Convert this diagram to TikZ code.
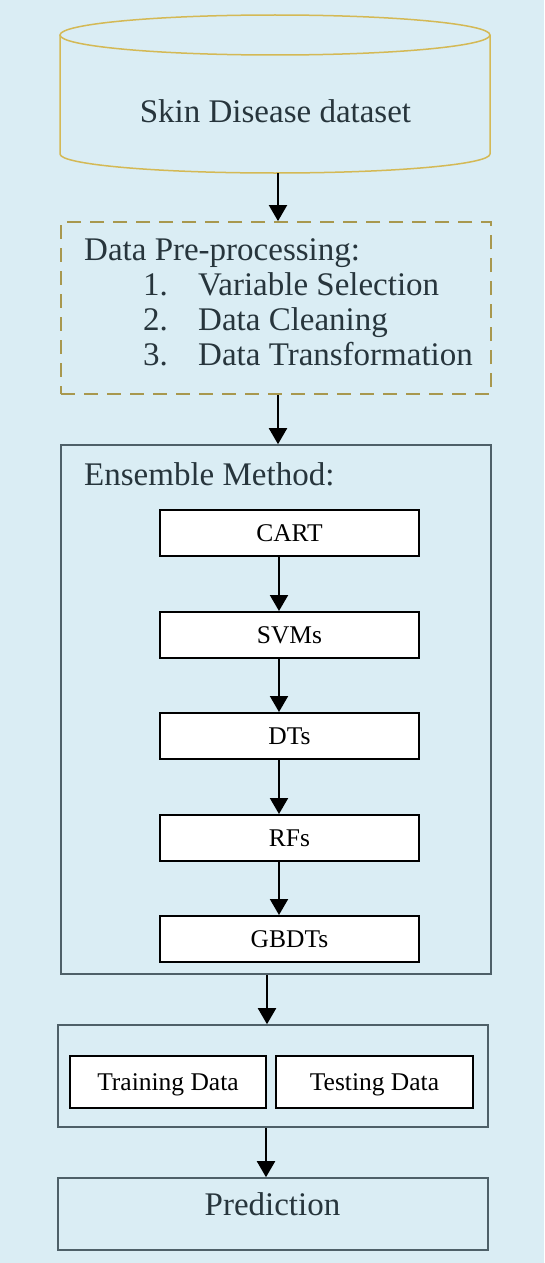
\documentclass[tikz,border=0pt]{standalone}
\usepackage{fontspec}
\setmainfont{Liberation Serif}
\usetikzlibrary{arrows.meta}
\definecolor{bg}{HTML}{DAEDF4}
\definecolor{gold}{HTML}{D4B955}
\definecolor{olive}{HTML}{A8984E}
\definecolor{slate}{HTML}{4E6068}
\definecolor{txt}{HTML}{27353C}
\tikzset{
  bigtext/.style={inner sep=0pt, text=txt, font=\fontsize{33}{35}\selectfont},
  cyl/.style={draw=gold, line width=1.5pt},
  prebox/.style={draw=olive, line width=1.8pt, dash pattern=on 14pt off 9pt, minimum width=430pt, minimum height=172pt, inner sep=0pt},
  outerbox/.style={draw=slate, line width=1.6pt, inner sep=0pt},
  algbox/.style={draw=black, fill=white, line width=2pt, minimum width=259pt, minimum height=46pt, inner sep=0pt, text height=17pt, text depth=0pt, font=\fontsize{25.5}{28}\selectfont, text=black},
  databox/.style={draw=black, fill=white, line width=2pt, minimum height=52pt, inner sep=0pt, text height=17pt, text depth=0pt, font=\fontsize{25.5}{28}\selectfont, text=black},
  arr/.style={line width=2pt, draw=black, -{Triangle[width=18pt,length=16pt]}}
}
\begin{document}
\begin{tikzpicture}[x=1pt,y=-1pt]
\fill[bg] (0,0) rectangle (544,1263);
\useasboundingbox (0,0) rectangle (544,1263);

% cylinder
\draw[cyl] (60,35) -- (60,154) arc[start angle=180,end angle=360,x radius=215pt,y radius=19pt] -- (490,35);
\draw[cyl] (275,35) ellipse[x radius=215pt,y radius=20pt];
\node[bigtext, anchor=base] (dbtext) at (275.5,122) {Skin Disease dataset};
\coordinate (dbbot) at (278,173);

% pre-processing
\node[prebox] (pre) at (276,308) {};
\node[bigtext, anchor=base west] (pretitle) at (84,260) {Data Pre-processing:};
\node[bigtext, anchor=base west] (n1) at (143,295) {1.};
\node[bigtext, anchor=base west] (i1) at (198,295) {Variable Selection};
\node[bigtext, anchor=base west] (n2) at (143,330) {2.};
\node[bigtext, anchor=base west] (i2) at (198,330) {Data Cleaning};
\node[bigtext, anchor=base west] (n3) at (143,365) {3.};
\node[bigtext, anchor=base west] (i3) at (198,365) {Data Transformation};

\draw[arr] (dbbot) -- (dbbot |- pre.north);

% ensemble
\node[outerbox, minimum width=430pt, minimum height=529pt] (ens) at (276,709.5) {};
\node[bigtext, anchor=base west] (enstitle) at (84,485) {Ensemble Method:};
\draw[arr] ([xshift=2pt]pre.south) -- ([xshift=2pt]ens.north);

\node[algbox] (cart) at (289.5,533) {CART};
\node[algbox] (svm) at (289.5,635) {SVMs};
\node[algbox] (dt) at (289.5,736) {DTs};
\node[algbox] (rf) at (289.5,838) {RFs};
\node[algbox] (gbdt) at (289.5,939) {GBDTs};
\draw[arr] ([xshift=-10.5pt]cart.south) -- ([xshift=-10.5pt]svm.north);
\draw[arr] ([xshift=-10.5pt]svm.south) -- ([xshift=-10.5pt]dt.north);
\draw[arr] ([xshift=-10.5pt]dt.south) -- ([xshift=-10.5pt]rf.north);
\draw[arr] ([xshift=-10.5pt]rf.south) -- ([xshift=-10.5pt]gbdt.north);

% training/testing
\node[outerbox, minimum width=430pt, minimum height=102pt] (split) at (273,1076) {};
\node[databox, minimum width=196pt] (train) at (168,1082) {Training Data};
\node[databox, minimum width=197pt] (test) at (374.5,1082) {Testing Data};
\draw[arr] ([xshift=-9pt]ens.south) -- ([xshift=-6pt]split.north);

% prediction
\node[outerbox, minimum width=430pt, minimum height=72pt] (pred) at (273,1214) {};
\node[bigtext, anchor=base] (predtext) at (272.5,1215) {Prediction};
\draw[arr] ([xshift=-7pt]split.south) -- ([xshift=-7pt]pred.north);
\end{tikzpicture}
\end{document}
